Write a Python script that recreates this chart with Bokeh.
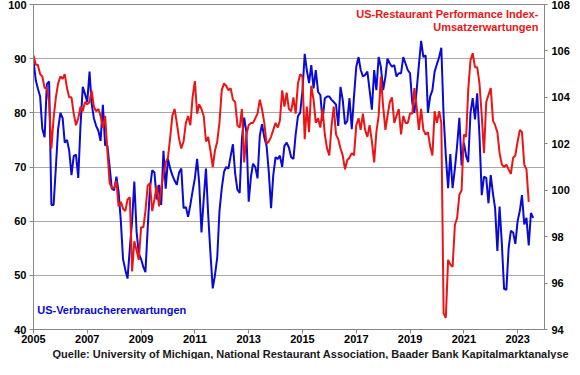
import pandas as pd
from bokeh.plotting import figure
from bokeh.models import (Range1d, LinearAxis, FixedTicker, DatetimeTickFormatter,
                          Label, Title)
from bokeh.embed import file_html
from bokeh.resources import INLINE

# ---------------- data (monthly, starting Jan 2005) ----------------
start_month = "2005-01-01"

# US consumer expectations (University of Michigan), left axis
consumer_expectations = [
    89.7, 86.0, 84.5, 83.0, 77.0, 75.5, 85.3, 85.8, 63.0, 63.0, 70.0, 77.0,
    80.0, 79.0, 74.5, 75.0, 73.0, 68.5, 72.0, 72.3, 68.0, 77.6, 84.8, 83.5,
    82.0, 87.6, 81.8, 79.0, 77.6, 76.7, 74.8, 81.5, 74.0, 74.0, 70.0, 66.0,
    65.7, 68.2, 65.5, 60.0, 53.0, 51.0, 49.4, 55.0, 60.0, 67.3, 58.0, 54.0,
    53.0, 51.5, 50.6, 58.8, 66.0, 69.4, 69.0, 64.0, 66.7, 63.0, 73.0, 66.0,
    71.5, 69.7, 68.5, 67.5, 66.7, 69.0, 69.7, 62.4, 62.6, 60.8, 63.0, 65.5,
    67.9, 71.5, 67.0, 57.9, 64.0, 69.7, 61.2, 54.0, 47.6, 50.0, 53.3, 61.8,
    66.0, 69.1, 70.0, 69.7, 72.0, 74.2, 68.8, 65.8, 65.2, 75.2, 79.1, 76.4,
    63.6, 68.2, 70.6, 70.0, 67.9, 75.8, 77.9, 75.5, 73.9, 69.1, 62.4, 68.5,
    71.8, 71.5, 72.1, 70.0, 73.9, 74.5, 73.6, 71.8, 71.5, 76.0, 79.4, 80.0,
    84.0, 90.9, 87.9, 85.5, 88.8, 84.5, 87.9, 83.9, 83.3, 78.5, 82.7, 83.0,
    83.0, 82.4, 82.0, 81.5, 77.6, 84.8, 82.4, 77.9, 78.5, 82.7, 77.0, 83.0,
    88.5, 90.3, 88.0, 86.7, 87.0, 87.6, 84.2, 80.6, 87.9, 84.2, 90.3, 88.5,
    84.2, 86.7, 90.0, 89.1, 88.5, 88.8, 86.7, 87.3, 87.3, 90.3, 89.1, 87.9,
    87.3, 81.8, 80.0, 84.2, 88.8, 93.3, 90.3, 90.6, 80.0, 83.0, 84.2, 87.6,
    89.0, 90.3, 92.0, 79.4, 72.1, 66.1, 72.4, 66.1, 69.7, 73.9, 79.1, 70.3,
    74.5, 72.0, 70.9, 80.0, 82.7, 78.8, 83.6, 75.8, 64.8, 68.2, 68.0, 63.3,
    68.5, 65.0, 62.4, 54.5, 62.7, 55.8, 47.5, 47.3, 55.0, 58.2, 57.9, 55.8,
    60.0, 62.0, 64.8, 59.4, 60.6, 55.5, 61.5, 60.6,
]

# US Restaurant Performance Index - sales expectations, right axis
restaurant_expectations = [
    105.8, 105.4, 105.4, 105.0, 104.9, 104.4, 104.4, 103.8, 101.8, 103.1, 104.0, 104.6,
    104.9, 104.8, 105.0, 104.4, 104.0, 104.0, 103.3, 102.8, 103.1, 103.6, 103.4, 103.8,
    103.7, 103.8, 104.3, 103.6, 103.4, 103.5, 103.2, 102.7, 103.2, 101.7, 100.3, 100.1,
    100.1, 100.4, 99.3, 99.5, 99.2, 99.1, 99.6, 99.7, 96.5, 97.8, 97.4, 97.0,
    98.4, 98.4, 99.1, 100.2, 100.3, 99.1, 99.6, 100.2, 99.3, 100.1, 100.7, 101.2,
    101.4, 102.3, 103.2, 103.5, 102.9, 102.2, 101.8, 102.1, 102.9, 103.2, 102.8, 104.0,
    104.7, 103.3, 103.7, 103.5, 103.2, 102.1, 102.3, 101.7, 101.0, 101.7, 102.1, 102.9,
    104.3, 104.6, 104.5, 104.3, 104.4, 103.9, 103.8, 102.8, 102.7, 103.5, 101.2, 102.4,
    102.8, 102.9, 102.9, 103.1, 103.3, 103.9, 103.5, 102.9, 102.0, 102.1, 102.3, 102.6,
    102.9, 102.7, 103.0, 104.3, 103.6, 104.2, 103.5, 103.4, 104.0, 103.3, 104.6, 105.0,
    104.9, 102.2, 103.6, 102.5, 104.5, 103.9, 102.9, 103.1, 102.7, 103.5, 102.4, 101.8,
    101.5, 102.8, 103.6, 102.4, 102.2, 101.8, 101.5, 100.9, 101.3, 101.4, 101.6, 101.5,
    102.8, 103.1, 102.6, 103.3, 102.6, 102.3, 102.8, 102.1, 101.2, 102.5, 103.2, 104.9,
    103.6, 102.6, 103.2, 103.8, 104.0, 102.9, 103.2, 103.5, 102.4, 103.2, 102.9, 102.9,
    103.3, 103.3, 104.4, 103.6, 102.6, 103.5, 102.6, 102.4, 102.5, 101.9, 101.5, 103.4,
    102.9, 103.4, 102.9, 94.7, 94.5, 97.0, 96.8, 96.7, 98.5, 98.8, 99.8, 100.0,
    102.4, 102.3, 104.3, 105.6, 105.9, 105.3, 105.3, 104.6, 103.2, 101.6, 103.8, 104.1,
    104.4, 103.0, 102.8, 102.5, 101.6, 101.1, 101.0, 101.1, 100.9, 100.7, 101.4, 101.5,
    102.1, 102.6, 102.5, 101.1, 100.9, 99.5,
]

left_ticks = [40, 50, 60, 70, 80, 90, 100]
right_ticks = [94, 96, 98, 100, 102, 104, 106, 108]
year_ticks = [2005, 2007, 2009, 2011, 2013, 2015, 2017, 2019, 2021, 2023]
x_start, x_end = "2005-01-01", "2024-01-01"

label_consumer = "US-Verbrauchererwartungen"
label_restaurant_1 = "US-Restaurant Performance Index-"
label_restaurant_2 = "Umsatzerwartungen"
source_text = ("Quelle: University of Michigan, National Restaurant Association, "
               "Baader Bank Kapitalmarktanalyse")

# ---------------- styling ----------------
FONT = "Liberation Sans"
BLUE = "#0a0ad6"
RED = "#ec1515"
AXIS_GREY = "#868686"
GRID_GREY = "#a9a9a9"


def ms(ts):
    return pd.Timestamp(ts).value / 1e6


dates_c = pd.date_range(start_month, periods=len(consumer_expectations), freq="MS")
dates_r = pd.date_range(start_month, periods=len(restaurant_expectations), freq="MS")

p = figure(width=572, height=359, x_axis_type="datetime",
           x_range=Range1d(ms(x_start), ms(x_end)),
           y_range=Range1d(left_ticks[0], left_ticks[-1]),
           output_backend="svg", toolbar_location=None,
           min_border_left=33, min_border_right=26, min_border_top=4,
           min_border_bottom=28)
p.extra_y_ranges = {"r": Range1d(right_ticks[0], right_ticks[-1])}

p.background_fill_color = "white"
p.border_fill_color = "white"
p.outline_line_color = AXIS_GREY

# grid
p.xgrid.visible = False
p.ygrid.ticker = FixedTicker(ticks=left_ticks)
p.ygrid.grid_line_color = GRID_GREY
p.ygrid.grid_line_width = 1


def style_axis(ax, tick_out=4, standoff=3):
    ax.axis_line_color = AXIS_GREY
    ax.major_tick_line_color = AXIS_GREY
    ax.major_tick_out = tick_out
    ax.major_tick_in = 0
    ax.minor_tick_line_color = None
    ax.major_label_text_font = FONT
    ax.major_label_text_font_size = "11px"
    ax.major_label_text_font_style = "bold"
    ax.major_label_text_color = "black"
    ax.major_label_standoff = standoff


# x axis
p.xaxis.ticker = FixedTicker(ticks=[ms(f"{y}-01-01") for y in year_ticks])
p.xaxis.formatter = DatetimeTickFormatter(years="%Y", months="%Y", days="%Y",
                                          hours="%Y", minutes="%Y")
style_axis(p.xaxis[0], tick_out=4, standoff=1)
p.xaxis.major_label_text_line_height = 1.0

# left axis
p.yaxis.ticker = FixedTicker(ticks=left_ticks)
style_axis(p.yaxis[0], tick_out=4, standoff=3)

# right axis
raxis = LinearAxis(y_range_name="r", ticker=FixedTicker(ticks=right_ticks))
style_axis(raxis, tick_out=3, standoff=4)
p.add_layout(raxis, "right")

# lines
p.line(dates_c, consumer_expectations, line_color=BLUE, line_width=2)
p.line(dates_r, restaurant_expectations, line_color=RED, line_width=2,
       y_range_name="r")

# in-chart labels
p.add_layout(Label(x=ms("2005-02-20"), y=43.6, text=label_consumer,
                   text_font=FONT, text_font_size="11px", text_font_style="bold",
                   text_color=BLUE, text_baseline="middle", text_align="left"))
p.add_layout(Label(x=ms("2023-10-10"), y=98.2, text=label_restaurant_1,
                   text_font=FONT, text_font_size="11px", text_font_style="bold",
                   text_color=RED, text_baseline="middle", text_align="right"))
p.add_layout(Label(x=ms("2023-10-10"), y=95.8, text=label_restaurant_2,
                   text_font=FONT, text_font_size="11px", text_font_style="bold",
                   text_color=RED, text_baseline="middle", text_align="right"))

# source line below the axis
p.add_layout(Title(text=source_text, align="left", offset=19, standoff=0,
                   text_font=FONT, text_font_size="11px", text_font_style="bold",
                   text_line_height=0.9, text_color="#1a1a1a"), "below")

open("out.html", "w").write(file_html(p, INLINE))
